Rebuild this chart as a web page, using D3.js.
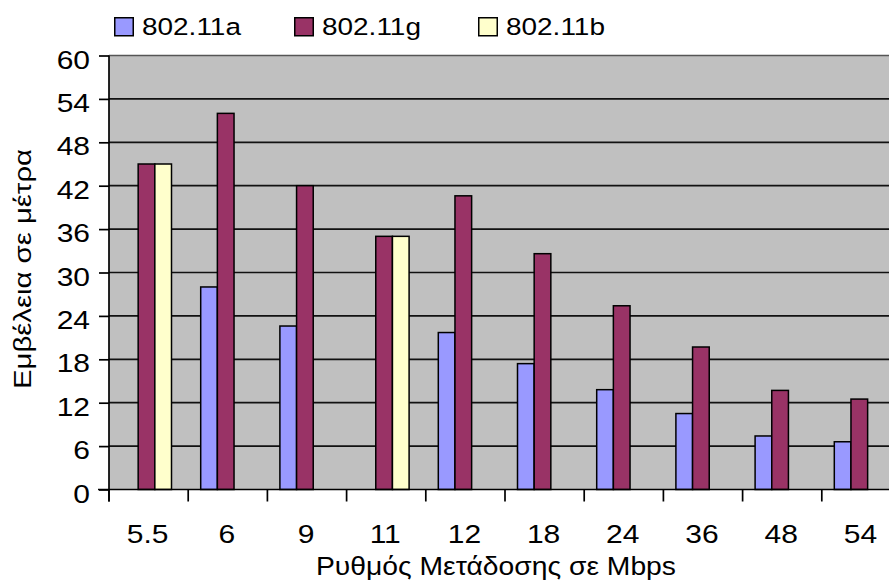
<!DOCTYPE html>
<html>
<head>
<meta charset="utf-8">
<script src="https://cdn.jsdelivr.net/npm/d3@7"></script>
<style>
  html, body { margin: 0; padding: 0; background: #fff; }
  svg { display: block; font-family: "Liberation Sans", Arial, sans-serif; }
</style>
</head>
<body>
<svg id="chart" width="889" height="586"></svg>
<script>
// ---- data ----
const categories = ["5.5", "6", "9", "11", "12", "18", "24", "36", "48", "54"];
const seriesNames = ["802.11a", "802.11g", "802.11b"];
const values80211a = [null, 28, 22.6, null, 21.7, 17.4, 13.8, 10.5, 7.4, 6.6];
const values80211g = [45, 52, 42, 35, 40.6, 32.6, 25.4, 19.7, 13.7, 12.5];
const values80211b = [45, null, null, 35, null, null, null, null, null, null];
const yTickValues = [0, 6, 12, 18, 24, 30, 36, 42, 48, 54, 60];
const seriesColors = ["#9999FF", "#993366", "#FFFFCC"];
const xTitle = "Ρυθμός Μετάδοσης σε Mbps";
const yTitle = "Εμβέλεια σε μέτρα";

const seriesValues = [values80211a, values80211g, values80211b];

// ---- layout ----
const W = 889, H = 586;
const plotLeft = 109, plotRight = 901, plotTop = 55.5, plotBottom = 489.5;
const SX = 1.2; // horizontal stretch of text in the reference

const svg = d3.select("#chart");
svg.append("rect").attr("width", W).attr("height", H).attr("fill", "#fff");

const x = d3.scaleBand().domain(categories).range([plotLeft, plotRight]).padding(0);
const groupOffset = 12.5, groupWidth = 50;
const xs = d3.scaleBand().domain(seriesNames).range([groupOffset, groupOffset + groupWidth]).padding(0);
const y = d3.scaleLinear().domain([0, 60]).range([plotBottom, plotTop]);

// plot background
svg.append("rect")
  .attr("x", plotLeft).attr("y", plotTop)
  .attr("width", plotRight - plotLeft).attr("height", plotBottom - plotTop)
  .attr("fill", "#C0C0C0");

// gridlines
svg.append("g").selectAll("line")
  .data(yTickValues.filter(v => v > 0))
  .join("line")
  .attr("x1", plotLeft).attr("x2", plotRight)
  .attr("y1", d => y(d)).attr("y2", d => y(d))
  .attr("stroke", d => d === 60 ? "#555" : "#111")
  .attr("stroke-width", 1.7);

// bars
const groups = svg.append("g").selectAll("g")
  .data(categories)
  .join("g")
  .attr("transform", c => `translate(${x(c)},0)`);

groups.selectAll("rect")
  .data((c, i) => seriesNames.map((s, k) => ({ s, k, v: seriesValues[k][i] })).filter(d => d.v != null))
  .join("rect")
  .attr("x", d => xs(d.s))
  .attr("width", xs.bandwidth())
  .attr("y", d => y(d.v))
  .attr("height", d => y(0) - y(d.v))
  .attr("fill", d => seriesColors[d.k])
  .attr("stroke", "#000")
  .attr("stroke-width", 1.5);

// y axis
const yAxis = svg.append("g")
  .attr("transform", `translate(${plotLeft},0)`)
  .call(d3.axisLeft(y).tickValues(yTickValues).tickSize(10).tickSizeOuter(0).tickFormat(d3.format("d")));
yAxis.select(".domain").attr("stroke", "#000").attr("stroke-width", 1.7)
  .attr("d", `M0,${plotTop}V${plotBottom + 12}`);
yAxis.selectAll(".tick line").attr("stroke", "#000").attr("stroke-width", 1.7);
yAxis.selectAll(".tick text")
  .attr("x", null).attr("dy", null)
  .attr("font-size", 25).attr("fill", "#000")
  .attr("font-family", "'Liberation Sans', Arial, sans-serif")
  .attr("text-anchor", "end")
  .attr("transform", `translate(-19,12.6) scale(${SX},1)`);

// x axis (ticks at category boundaries)
const xAxis = svg.append("g").attr("transform", `translate(0,${plotBottom})`);
xAxis.append("line")
  .attr("x1", plotLeft - 11).attr("x2", plotRight)
  .attr("y1", 0).attr("y2", 0)
  .attr("stroke", "#000").attr("stroke-width", 1.7);
xAxis.selectAll("line.tk")
  .data(categories)
  .join("line").attr("class", "tk")
  .attr("x1", c => x(c)).attr("x2", c => x(c))
  .attr("y1", 0).attr("y2", 12)
  .attr("stroke", "#000").attr("stroke-width", 1.7);
xAxis.selectAll("text")
  .data(categories)
  .join("text")
  .attr("transform", c => `translate(${x(c) + x.bandwidth() / 2 - 1},${543 - plotBottom}) scale(${SX},1)`)
  .attr("text-anchor", "middle")
  .attr("font-size", 25)
  .attr("fill", "#000")
  .text(c => c);

// axis titles
svg.append("text")
  .attr("transform", `translate(496,575)`)
  .attr("text-anchor", "middle")
  .attr("font-size", 25)
  .attr("textLength", 360)
  .attr("lengthAdjust", "spacingAndGlyphs")
  .attr("fill", "#000")
  .text(xTitle);

svg.append("text")
  .attr("transform", `translate(31,269) rotate(-90)`)
  .attr("text-anchor", "middle")
  .attr("font-size", 23)
  .attr("textLength", 240)
  .attr("lengthAdjust", "spacingAndGlyphs")
  .attr("fill", "#000")
  .text(yTitle);

// legend
const legendX = [114, 294, 478];
const legend = svg.append("g").selectAll("g")
  .data(seriesNames)
  .join("g")
  .attr("transform", (s, i) => `translate(${legendX[i]},17)`);
legend.append("rect")
  .attr("x", 0.75).attr("y", 0.75).attr("width", 18.5).attr("height", 18)
  .attr("fill", (s, i) => seriesColors[i])
  .attr("stroke", "#000").attr("stroke-width", 1.5);
legend.append("text")
  .attr("transform", `translate(28,18) scale(${SX},1)`)
  .attr("font-size", 23.3)
  .attr("fill", "#000")
  .text(s => s);
</script>
</body>
</html>
